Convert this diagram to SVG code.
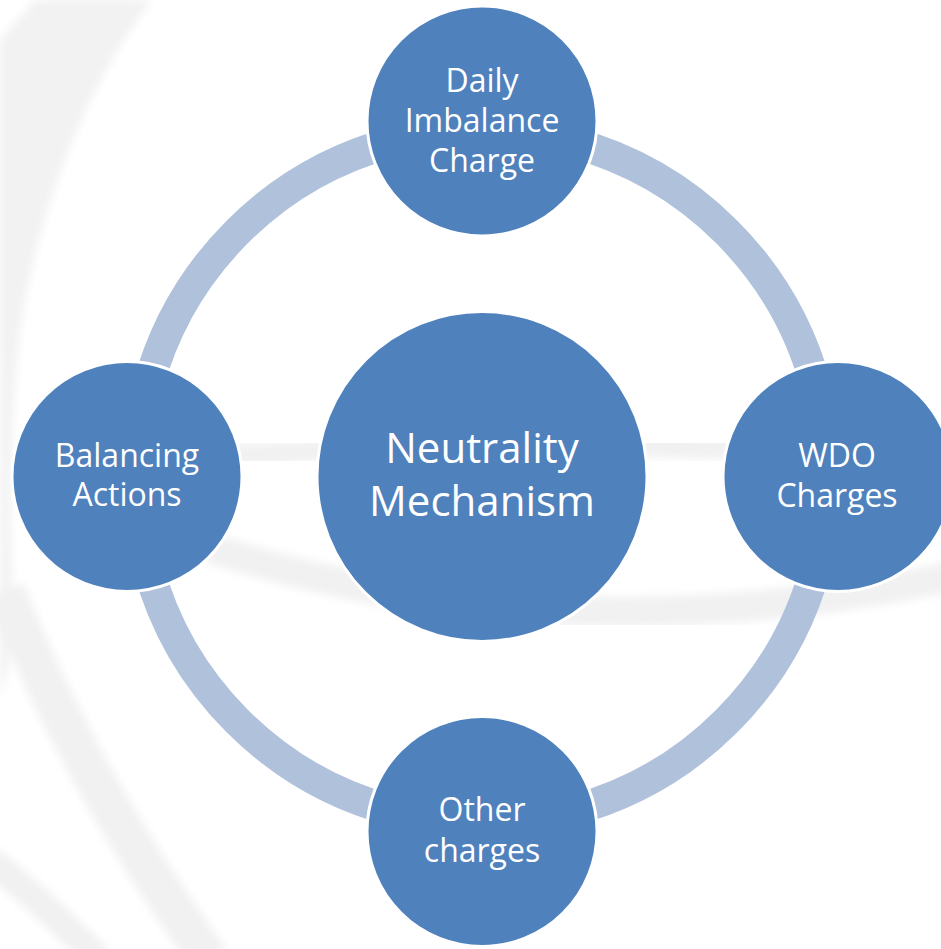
<svg xmlns="http://www.w3.org/2000/svg" width="941" height="949" viewBox="0 0 941 949">
<defs>
<filter id="soft" x="-20%" y="-20%" width="140%" height="140%"><feGaussianBlur stdDeviation="4"/></filter>
<style>
.bg{fill:none;stroke:#f1f1f1;filter:url(#soft)}
.ring{fill:none;stroke:#b0c1dc;stroke-width:31}
.node{fill:#4f81bd;stroke:#ffffff;stroke-width:3}
.lbl{font-family:"Open Sans","Noto Sans","Liberation Sans",sans-serif;fill:#ffffff;text-anchor:middle;font-size:32px}
.big{font-size:42px}
</style>
</defs>
<rect x="0" y="0" width="941" height="949" fill="#ffffff"/>
<g id="background">
<path d="M 35 0 L 152 0 C 90 80 40 200 20 330 C 10 420 8 520 15 640 L 0 700 L 0 40 Z" fill="#f2f2f2" filter="url(#soft)"/>
<path class="bg" d="M 5 590 Q 80 780 210 960" stroke-width="40"/>
<path class="bg" d="M -10 860 Q 40 900 100 960" stroke-width="28"/>
<path class="bg" d="M 200 458 Q 480 438 760 450" stroke-width="22"/>
<path class="bg" d="M 210 548 Q 560 660 960 575" stroke-width="30"/>
</g>
<g id="connectors">
<path class="ring" d="M 571.55 142.3 A 346 346 0 0 1 816.2 386.95"/>
<path class="ring" d="M 816.2 565.95 A 346 346 0 0 1 571.55 810.7"/>
<path class="ring" d="M 392.45 810.7 A 346 346 0 0 1 147.8 565.95"/>
<path class="ring" d="M 147.8 386.95 A 346 346 0 0 1 392.45 142.3"/>
</g>
<g id="node-center">
<circle class="node" cx="482" cy="476.5" r="165"/>
<text class="lbl big" x="482" y="463">Neutrality</text>
<text class="lbl big" x="482" y="516">Mechanism</text>
</g>
<g id="node-top">
<circle class="node" cx="482" cy="121" r="115"/>
<text class="lbl" x="482" y="92">Daily</text>
<text class="lbl" x="482" y="132">Imbalance</text>
<text class="lbl" x="482" y="172">Charge</text>
</g>
<g id="node-right">
<circle class="node" cx="838" cy="476.5" r="115"/>
<text class="lbl" x="837" y="467">WDO</text>
<text class="lbl" x="837" y="507">Charges</text>
</g>
<g id="node-bottom">
<circle class="node" cx="482" cy="831.5" r="115"/>
<text class="lbl" x="482" y="821">Other</text>
<text class="lbl" x="482" y="862">charges</text>
</g>
<g id="node-left">
<circle class="node" cx="127" cy="476.5" r="115"/>
<text class="lbl" x="127" y="467">Balancing</text>
<text class="lbl" x="127" y="506">Actions</text>
</g>
</svg>
